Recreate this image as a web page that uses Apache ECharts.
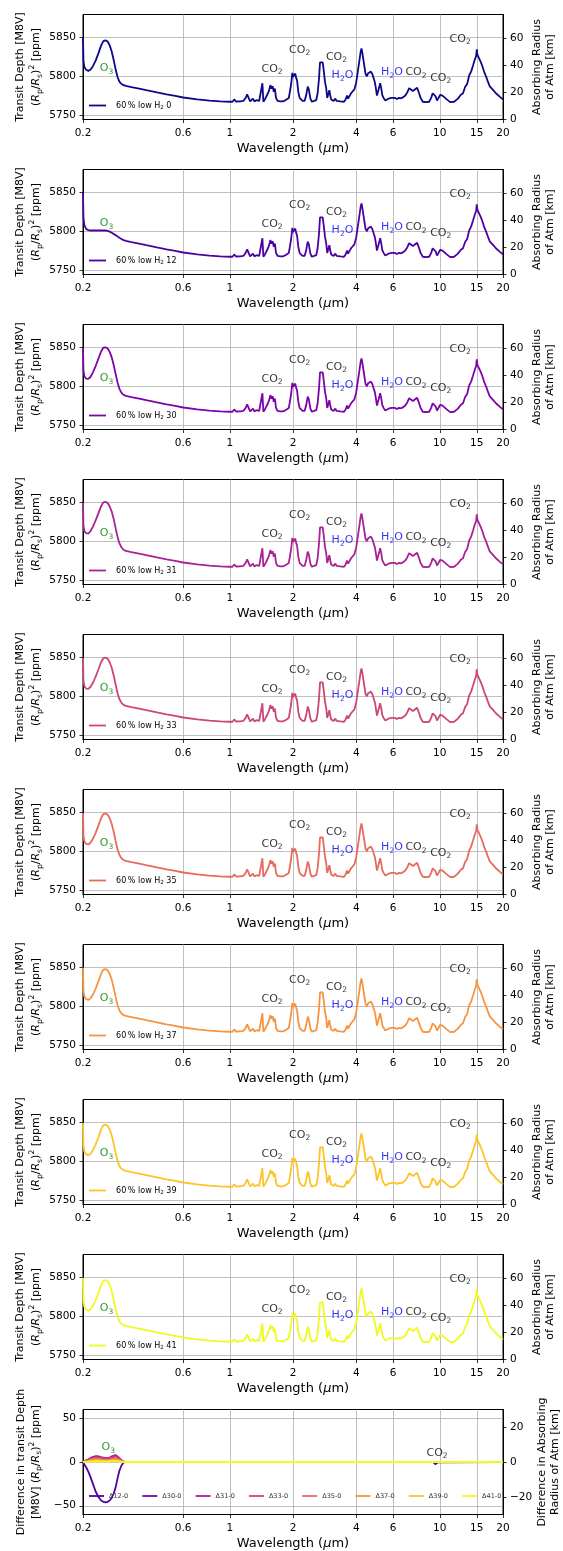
<!DOCTYPE html>
<html>
<head>
<meta charset="utf-8">
<script src="https://cdn.jsdelivr.net/npm/echarts@6/dist/echarts.min.js"></script>
<style>
  html, body { margin: 0; padding: 0; background: #fff; }
  #chart { width: 563px; height: 1551px; }
</style>
</head>
<body>
<div id="chart"></div>
<script>
const FONT = "'DejaVu Sans', 'Liberation Sans', sans-serif";

// H2 cases, one spectrum panel each, with their line colours (plasma ramp)
const cases = [0, 12, 30, 31, 33, 35, 37, 39, 41];
const caseColors = ['#0d0887', '#4c02a1', '#7e03a8', '#a82296', '#cb4679', '#e56b5d', '#f89441', '#fdc328', '#f0f921'];

// Axis ticks
const xTickValues = [0.2, 0.6, 1, 2, 4, 6, 10, 15, 20];
const xTickLabels = ['0.2', '0.6', '1', '2', '4', '6', '10', '15', '20'];
const depthTicks = [5750, 5800, 5850];
const depthTickLabels = ['5750', '5800', '5850'];
const radiusTicks = [0, 20, 40, 60];
const radiusTickLabels = ['0', '20', '40', '60'];
const diffDepthTicks = [-50, 0, 50];
const diffDepthTickLabels = ['\u221250', '0', '50'];
const diffRadiusTicks = [-20, 0, 20];
const diffRadiusTickLabels = ['\u221220', '0', '20'];

// UV part of the spectrum (O3 band), differs between cases (ppm)
const uvWavelength = [0.2, 0.201, 0.203, 0.207, 0.212, 0.217, 0.223, 0.23, 0.237, 0.244, 0.25, 0.256, 0.262, 0.268, 0.274, 0.28, 0.286, 0.292, 0.298, 0.305, 0.312];
const uvDepth0  = [5850, 5820, 5812, 5808.5, 5807, 5808.5, 5813, 5820.5, 5830, 5840, 5845.5, 5846.5, 5845, 5840, 5832, 5821, 5809, 5799, 5793, 5790, 5788.5];
const uvDepth12 = [5850, 5818, 5808, 5803, 5801.5, 5801, 5801, 5801, 5801, 5801, 5801, 5801, 5800.5, 5799.5, 5798, 5796.5, 5795, 5793, 5791.5, 5790, 5788.5];
const uvDepth30 = [5850, 5820.5, 5813, 5810, 5809.5, 5812, 5818, 5826.5, 5836, 5845, 5850, 5850.5, 5849, 5844.5, 5837.5, 5827.5, 5816, 5805, 5797, 5791.5, 5788.8];
const uvDepth31 = [5850, 5820.5, 5813.2, 5810.5, 5810, 5813, 5819, 5827.3, 5836.5, 5845.5, 5850.5, 5851, 5849.5, 5845, 5838.5, 5828.8, 5817, 5805.8, 5797.5, 5792, 5789];
const uvDepth33 = [5850, 5820.4, 5813, 5810, 5809.5, 5812, 5817.5, 5825.7, 5835, 5844.3, 5849.3, 5850, 5848.5, 5844, 5837, 5827, 5815.2, 5804.2, 5796.5, 5791.5, 5788.8];
const uvDepth35 = [5850, 5820.3, 5812.7, 5809.5, 5808.8, 5811, 5816.2, 5824.2, 5833.6, 5843.1, 5848.2, 5849, 5847.5, 5842.8, 5835.5, 5825.2, 5813.4, 5802.7, 5795.5, 5791, 5788.7];
const uvDepth37 = [5850, 5820.2, 5812.5, 5809.3, 5808.2, 5810.2, 5815.2, 5823.1, 5832.5, 5842.2, 5847.4, 5848.2, 5846.7, 5842, 5834.5, 5824, 5812.1, 5801.6, 5794.7, 5790.7, 5788.6];
const uvDepth39 = [5850, 5820.1, 5812.3, 5809, 5807.7, 5809.5, 5814.3, 5822, 5831.5, 5841.3, 5846.6, 5847.5, 5846, 5841.2, 5833.5, 5822.8, 5810.8, 5800.5, 5794, 5790.4, 5788.6];
const uvDepth41 = [5850, 5820, 5812.1, 5808.7, 5807.3, 5808.9, 5813.5, 5821.1, 5830.6, 5840.5, 5845.9, 5846.9, 5845.4, 5840.5, 5832.6, 5821.7, 5809.7, 5799.6, 5793.4, 5790.2, 5788.5];
const uvDepthByCase = [uvDepth0, uvDepth12, uvDepth30, uvDepth31, uvDepth33, uvDepth35, uvDepth37, uvDepth39, uvDepth41];

// Visible / IR part of the spectrum, common to all cases: [wavelength um, depth ppm]
const irSpectrum = [
  [0.32, 5787.5], [0.34, 5786], [0.37, 5784], [0.40, 5782], [0.45, 5779], [0.50, 5776.5], [0.55, 5774.5],
  [0.60, 5772.5], [0.70, 5770], [0.80, 5768.5], [0.90, 5767.5], [1.00, 5767], [1.03, 5767], [1.05, 5770],
  [1.07, 5767.3], [1.12, 5767.5], [1.16, 5768], [1.19, 5772], [1.21, 5776.5], [1.23, 5776], [1.25, 5767.5],
  [1.27, 5768], [1.29, 5771], [1.31, 5767.5], [1.34, 5769], [1.36, 5771], [1.38, 5768], [1.41, 5768.5],
  [1.43, 5791], [1.445, 5767], [1.47, 5770], [1.49, 5771], [1.52, 5778], [1.54, 5782], [1.56, 5788.5],
  [1.58, 5784], [1.60, 5787], [1.62, 5780], [1.64, 5784], [1.66, 5772], [1.69, 5768], [1.74, 5767.5],
  [1.79, 5767.5], [1.84, 5769], [1.88, 5770], [1.91, 5772], [1.93, 5779], [1.96, 5790], [1.985, 5804.5],
  [2.00, 5799], [2.02, 5801], [2.05, 5803.5], [2.07, 5798], [2.09, 5795], [2.12, 5780], [2.15, 5772],
  [2.18, 5771], [2.22, 5768], [2.27, 5768], [2.31, 5775], [2.35, 5786.5], [2.38, 5783], [2.42, 5771],
  [2.46, 5767], [2.52, 5768], [2.58, 5769], [2.62, 5778], [2.66, 5797], [2.69, 5818], [2.72, 5820],
  [2.745, 5816], [2.77, 5818], [2.80, 5808], [2.84, 5793], [2.88, 5784], [2.91, 5772], [2.95, 5770],
  [2.98, 5782], [3.01, 5775], [3.04, 5770], [3.08, 5772], [3.12, 5768], [3.18, 5771], [3.23, 5768],
  [3.30, 5770], [3.36, 5767.5], [3.42, 5768], [3.50, 5767], [3.56, 5770], [3.62, 5775], [3.66, 5771],
  [3.72, 5770], [3.78, 5778], [3.84, 5776], [3.92, 5783], [4.00, 5792], [4.08, 5808], [4.15, 5822],
  [4.20, 5832], [4.24, 5836], [4.28, 5830], [4.33, 5821], [4.38, 5812], [4.43, 5803], [4.50, 5800],
  [4.56, 5804], [4.62, 5805.5], [4.70, 5806], [4.77, 5803], [4.84, 5802], [4.90, 5793], [4.96, 5785],
  [5.02, 5775], [5.08, 5776], [5.14, 5785], [5.20, 5791], [5.26, 5785], [5.32, 5776], [5.40, 5772],
  [5.50, 5768.5], [5.60, 5769], [5.70, 5771], [5.80, 5770], [5.90, 5772], [6.00, 5770.5], [6.10, 5772],
  [6.25, 5770.5], [6.40, 5772], [6.55, 5771.5], [6.70, 5773], [6.85, 5775], [7.00, 5779], [7.15, 5784.5],
  [7.30, 5786], [7.45, 5781], [7.60, 5782], [7.80, 5785], [7.95, 5779], [8.10, 5772], [8.30, 5767],
  [8.60, 5766.5], [8.90, 5767], [9.10, 5772], [9.25, 5778], [9.40, 5780], [9.55, 5774], [9.70, 5768.5],
  [9.85, 5770], [10.05, 5776], [10.30, 5775], [10.50, 5773], [10.80, 5770], [11.20, 5766.5], [11.70, 5767],
  [12.20, 5771], [12.60, 5776], [12.90, 5778], [13.20, 5786], [13.50, 5790], [13.80, 5801], [14.10, 5806],
  [14.40, 5814], [14.70, 5822], [14.90, 5826], [15.00, 5835], [15.10, 5828], [15.40, 5826], [15.70, 5818],
  [16.00, 5812], [16.30, 5805], [16.60, 5800], [16.90, 5794], [17.30, 5787], [17.70, 5784], [18.10, 5781],
  [18.50, 5778], [18.90, 5776], [19.40, 5773], [20.00, 5770]
];

// Differences against the 0 case (ppm)
const diffCases = [12, 30, 31, 33, 35, 37, 39, 41];
const diffWavelength = [0.2, 0.201, 0.203, 0.207, 0.212, 0.217, 0.223, 0.23, 0.237, 0.244, 0.25, 0.256, 0.262, 0.268, 0.274, 0.28, 0.286, 0.292, 0.298, 0.305, 0.312, 0.32, 9.3, 9.42, 9.52, 9.62, 9.75, 20];
const diff12 = [0, -1, -3, -6, -11, -17, -25, -34, -40, -44, -45.5, -46, -45.5, -44, -41, -36, -29, -19, -10, -4, -0.5, 0, 0, -1.5, -2.5, -2, -0.5, 0];
const diff30 = [0, 0.5, 1, 1.5, 2.5, 3.5, 5, 6, 6, 5, 4.5, 4, 4, 4.5, 5.5, 6.5, 7, 6, 4, 1.5, 0.3, 0, 0, 0, 0, 0, 0, 0];
const diff31 = [0, 0.5, 1.2, 2, 3, 4.5, 6, 6.8, 6.5, 5.5, 5, 4.5, 4.5, 5, 6.5, 7.8, 8, 6.8, 4.5, 2, 0.4, 0, 0, 0, 0, 0, 0, 0];
const diff33 = [0, 0.4, 1, 1.5, 2.5, 3.5, 4.5, 5.2, 5, 4.3, 3.8, 3.5, 3.5, 4, 5, 6, 6.2, 5.2, 3.5, 1.5, 0.3, 0, 0, 0, 0, 0, 0, 0];
const diff35 = [0, 0.3, 0.7, 1, 1.8, 2.5, 3.2, 3.7, 3.6, 3.1, 2.7, 2.5, 2.5, 2.8, 3.5, 4.2, 4.4, 3.7, 2.5, 1, 0.2, 0, 0, 0, 0, 0, 0, 0];
const diff37 = [0, 0.2, 0.5, 0.8, 1.2, 1.7, 2.2, 2.6, 2.5, 2.2, 1.9, 1.7, 1.7, 2, 2.5, 3, 3.1, 2.6, 1.7, 0.7, 0.1, 0, 0, 0, 0, 0, 0, 0];
const diff39 = [0, 0.1, 0.3, 0.5, 0.7, 1, 1.3, 1.5, 1.5, 1.3, 1.1, 1, 1, 1.2, 1.5, 1.8, 1.8, 1.5, 1, 0.4, 0.1, 0, 0, 0, 0, 0, 0, 0];
const diff41 = [0, 0, 0.1, 0.2, 0.3, 0.4, 0.5, 0.6, 0.6, 0.5, 0.4, 0.4, 0.4, 0.5, 0.6, 0.7, 0.7, 0.6, 0.4, 0.2, 0, 0, 0, 0, 0, 0, 0, 0];
const diffByCase = [diff12, diff30, diff31, diff33, diff35, diff37, diff39, diff41];
const diffColors = ['#4c02a1', '#7e03a8', '#a82296', '#cb4679', '#e56b5d', '#f89441', '#fdc328', '#f0f921'];

// Band labels (wavelength um, depth ppm, species)
const bandWavelength = [0.259, 1.59, 2.15, 3.22, 3.44, 5.92, 7.7, 10.1, 12.5];
const bandDepth = [5810, 5809.5, 5834, 5825, 5801, 5805, 5804.7, 5797.8, 5848.5];
const bandSpecies = ['O3', 'CO2', 'CO2', 'CO2', 'H2O', 'H2O', 'CO2', 'CO2', 'CO2'];
const diffBandWavelength = [0.264, 9.7];
const diffBandValue = [17, 10.6];
const diffBandSpecies = ['O3', 'CO2'];

// ---- layout ----
const PANEL_TOP = 14.5, PANEL_STEP = 155, PANEL_H = 105, PANEL_LEFT = 83, PANEL_W = 420;
const GRID_COLOR = '#b0b0b0';
const LINE_W = 1.8;

const speciesText = { O3: 'O{s|3}', CO2: 'CO{s|2}', H2O: 'H{s|2}O' };
const speciesColor = { O3: '#008000', CO2: '#000000', H2O: '#0000ff' };

function nearestLabel(values, labels, v, useLog) {
  let best = 0;
  for (let k = 1; k < values.length; k++) {
    const dk = useLog ? Math.abs(Math.log(values[k] / v)) : Math.abs(values[k] - v);
    const db = useLog ? Math.abs(Math.log(values[best] / v)) : Math.abs(values[best] - v);
    if (dk < db) best = k;
  }
  return labels[best];
}

function richSet(size, lh) {
  return {
    i: { fontStyle: 'italic', fontSize: size, fontFamily: FONT, color: '#000', lineHeight: lh },
    s: { fontSize: size * 0.7, fontFamily: FONT, color: '#000', verticalAlign: 'bottom', lineHeight: lh },
    u: { fontSize: size * 0.7, fontFamily: FONT, color: '#000', verticalAlign: 'top', lineHeight: lh }
  };
}

function makeXAxis(gi) {
  return {
    type: 'log', logBase: 10, gridIndex: gi, min: 0.2, max: 20,
    axisLine: { show: true, onZero: false, lineStyle: { color: '#000', width: 1 } },
    axisTick: { show: true, length: 3.5, lineStyle: { color: '#000', width: 0.8 }, customValues: xTickValues },
    axisLabel: {
      show: true, customValues: xTickValues, fontSize: 10.5, fontFamily: FONT, color: '#000', margin: 8,
      showMinLabel: true, showMaxLabel: true,
      formatter: v => nearestLabel(xTickValues, xTickLabels, v, true)
    },
    splitLine: { show: true, lineStyle: { color: GRID_COLOR, width: 0.8 } },
    minorTick: { show: false }, minorSplitLine: { show: false },
    name: 'Wavelength ({i|\u03bc}m)', nameLocation: 'middle', nameGap: 21, nameMoveOverlap: false,
    nameTextStyle: { fontSize: 13, fontFamily: FONT, color: '#000', rich: richSet(13, 16) }
  };
}

function makeYAxis(gi, position, range, ticks, labels, name, nameGap, lh, split) {
  return {
    type: 'value', gridIndex: gi, position: position, min: range[0], max: range[1],
    axisLine: { show: true, onZero: false, lineStyle: { color: '#000', width: 1 } },
    axisTick: { show: true, length: 3.5, lineStyle: { color: '#000', width: 0.8 }, customValues: ticks },
    axisLabel: {
      show: true, customValues: ticks, fontSize: 10.5, fontFamily: FONT, color: '#000', margin: 7,
      showMinLabel: true, showMaxLabel: true,
      formatter: v => nearestLabel(ticks, labels, v, false)
    },
    splitLine: { show: split, lineStyle: { color: GRID_COLOR, width: 0.8 } },
    name: name, nameLocation: 'middle', nameRotate: 90, nameGap: nameGap, nameMoveOverlap: false,
    nameTextStyle: { fontSize: 11, fontFamily: FONT, color: '#000', lineHeight: lh, align: 'center', rich: richSet(11, lh) }
  };
}

function bandSeries(gi, yi, wl, val, species) {
  return {
    type: 'scatter', xAxisIndex: gi, yAxisIndex: yi, silent: true, z: 6,
    symbolSize: 1, itemStyle: { color: 'rgba(0,0,0,0)' },
    label: { show: true, position: 'inside', fontSize: 11, fontFamily: FONT, lineHeight: 15 },
    data: wl.map((w, k) => ({
      value: [w, val[k]],
      label: {
        formatter: speciesText[species[k]],
        color: speciesColor[species[k]],
        rich: { s: { fontSize: 7.5, fontFamily: FONT, verticalAlign: 'bottom', lineHeight: 15, color: speciesColor[species[k]] } }
      }
    }))
  };
}

const grids = [], xAxes = [], yAxes = [], series = [], legends = [];
const depthName = 'Transit Depth [M8V]\n({i|R}{s|p}/{i|R}{s|s}){u|2} [ppm]';
const radiusName = 'Absorbing Radius\nof Atm [km]';

for (let i = 0; i < 10; i++) {
  const top = PANEL_TOP + PANEL_STEP * i;
  grids.push({
    left: PANEL_LEFT, top: top, width: PANEL_W, height: PANEL_H,
    show: true, borderColor: '#000', borderWidth: 1, backgroundColor: 'rgba(0,0,0,0)',
    containLabel: false, outerBoundsMode: 'none'
  });
  xAxes.push(makeXAxis(i));
}

// spectrum panels
cases.forEach((c, i) => {
  const top = PANEL_TOP + PANEL_STEP * i;
  yAxes.push(makeYAxis(i, 'left', [5744, 5880], depthTicks, depthTickLabels, depthName, 39, 16, true));
  yAxes.push(makeYAxis(i, 'right', [0, 77.2], radiusTicks, radiusTickLabels, radiusName, 27, 13.5, false));
  const uv = uvDepthByCase[i];
  const data = uvWavelength.map((w, k) => [w, uv[k]]).concat(irSpectrum);
  const name = '60% low H2 ' + c;
  series.push({
    type: 'line', name: name, xAxisIndex: i, yAxisIndex: 2 * i, data: data,
    symbol: 'none', showSymbol: false, silent: true, z: 3,
    lineStyle: { width: LINE_W, color: caseColors[i] }, itemStyle: { color: caseColors[i] }
  });
  series.push(bandSeries(i, 2 * i, bandWavelength, bandDepth, bandSpecies));
  legends.push({
    data: [name], left: 89, top: top + 85.5, orient: 'horizontal', selectedMode: false,
    icon: 'rect', itemWidth: 17, itemHeight: LINE_W, padding: 0,
    formatter: () => '  60\u2009% low H{s|2} ' + c,
    textStyle: {
      fontSize: 8, fontFamily: FONT, color: '#000', lineHeight: 11,
      rich: { s: { fontSize: 5.6, fontFamily: FONT, color: '#000', verticalAlign: 'bottom', lineHeight: 11 } }
    }
  });
});

// difference panel
const diffGrid = 9;
yAxes.push(makeYAxis(diffGrid, 'left', [-60, 60], diffDepthTicks, diffDepthTickLabels,
  'Difference in transit Depth\n[M8V] ({i|R}{s|p}/{i|R}{s|s}){u|2} [ppm]', 40, 14.5, true));
yAxes.push(makeYAxis(diffGrid, 'right', [-30, 30], diffRadiusTicks, diffRadiusTickLabels,
  'Difference in Absorbing\nRadius of Atm [km]', 33, 13, false));
diffCases.forEach((c, k) => {
  const vals = diffByCase[k];
  const name = '\u0394' + c + '-0';
  series.push({
    type: 'line', name: name, xAxisIndex: diffGrid, yAxisIndex: 2 * diffGrid,
    data: diffWavelength.map((w, j) => [w, vals[j]]),
    symbol: 'none', showSymbol: false, silent: true, z: 3 + k * 0.01,
    lineStyle: { width: LINE_W, color: diffColors[k] }, itemStyle: { color: diffColors[k] }
  });
  legends.push({
    data: [name], left: 89 + 53.3 * k, top: PANEL_TOP + PANEL_STEP * diffGrid + 83, selectedMode: false,
    icon: 'rect', itemWidth: 15, itemHeight: LINE_W, padding: 0,
    textStyle: { fontSize: 6.5, fontFamily: FONT, color: '#333' }
  });
});
series.push(bandSeries(diffGrid, 2 * diffGrid, diffBandWavelength, diffBandValue, diffBandSpecies));

const chart = echarts.init(document.getElementById('chart'), null, { renderer: 'canvas', width: 563, height: 1551 });
chart.setOption({
  animation: false,
  backgroundColor: '#ffffff',
  textStyle: { fontFamily: FONT },
  grid: grids,
  xAxis: xAxes,
  yAxis: yAxes,
  legend: legends,
  series: series
});
</script>
</body>
</html>
